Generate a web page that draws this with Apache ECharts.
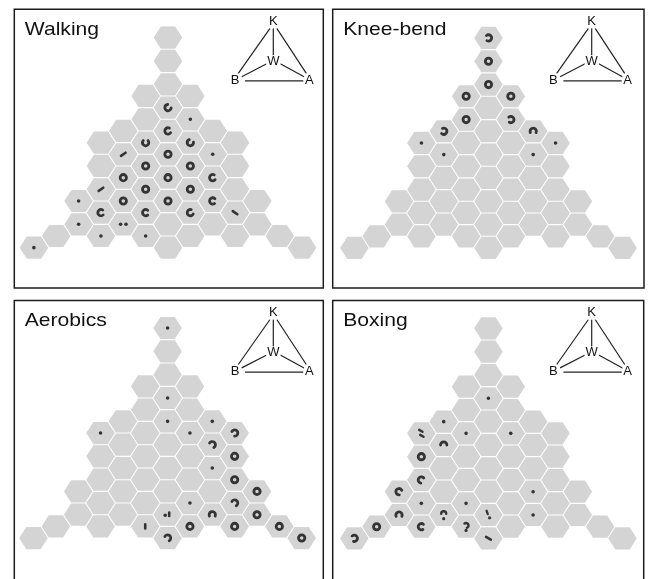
<!DOCTYPE html>
<html>
<head>
<meta charset="utf-8">
<script src="https://cdn.jsdelivr.net/npm/echarts@6/dist/echarts.min.js"></script>
<style>
  html, body { margin: 0; padding: 0; background: #fff; }
  #chart { width: 648px; height: 579px; }
</style>
</head>
<body>
<div id="chart"></div>
<script>
// Hexagonal cells of the simplex grid: for each column 0..12, the half-row indices present.
const hexColumns = [
  [18],
  [17],
  [14, 16],
  [9, 11, 13, 15, 17],
  [8, 10, 12, 14, 16],
  [5, 7, 9, 11, 13, 15, 17],
  [0, 2, 4, 6, 8, 10, 12, 14, 16, 18],
  [5, 7, 9, 11, 13, 15, 17],
  [8, 10, 12, 14, 16],
  [9, 11, 13, 15, 17],
  [14, 16],
  [17],
  [18]
];

const panelTitles = ['Walking', 'Knee-bend', 'Aerobics', 'Boxing'];
const vertexLabels = ['K', 'W', 'B', 'A'];

// Glyphs per cell: [column, halfRow, kind, gapAngleDeg, gapSpanDeg]
const walkingMarks = [
  [6, 6, 'arc', -45, 100],
  [7, 7, 'dot'],
  [6, 8, 'arc', -15, 100],
  [5, 9, 'arc', -90, 100],
  [7, 9, 'arc', -60, 100],
  [4, 10, 'dash', -35],
  [6, 10, 'ring'],
  [8, 10, 'dot'],
  [5, 11, 'ring'],
  [7, 11, 'ring'],
  [4, 12, 'ring'],
  [6, 12, 'ring'],
  [8, 12, 'arc', -10, 100],
  [3, 13, 'dash', -35],
  [5, 13, 'ring'],
  [7, 13, 'ring'],
  [2, 14, 'dot'],
  [4, 14, 'ring'],
  [6, 14, 'ring'],
  [8, 14, 'arc', 5, 100],
  [3, 15, 'arc', -5, 100],
  [5, 15, 'arc', 0, 100],
  [7, 15, 'arc', -25, 100],
  [9, 15, 'dash', 35],
  [2, 16, 'dot'],
  [4, 16, 'pair'],
  [3, 17, 'dot'],
  [5, 17, 'dot'],
  [0, 18, 'dot']
];

const kneeBendMarks = [
  [6, 0, 'arc', 175, 110],
  [6, 2, 'ring'],
  [6, 4, 'ring'],
  [5, 5, 'ring'],
  [7, 5, 'ring'],
  [5, 7, 'ring'],
  [7, 7, 'arc', 175, 110],
  [4, 8, 'arc', 190, 110],
  [8, 8, 'arc', 90, 130],
  [3, 9, 'dot'],
  [9, 9, 'dot'],
  [4, 10, 'dot'],
  [8, 10, 'dot']
];

const aerobicsMarks = [
  [6, 0, 'dot'],
  [6, 6, 'dot'],
  [6, 8, 'dot'],
  [8, 8, 'dot'],
  [3, 9, 'dot'],
  [7, 9, 'dot'],
  [9, 9, 'arc', 150, 120],
  [8, 10, 'arc', 135, 150],
  [9, 11, 'ring'],
  [8, 12, 'dot'],
  [9, 13, 'ring'],
  [10, 14, 'ring'],
  [7, 15, 'dot'],
  [9, 15, 'arc', 135, 150],
  [6, 16, 'dotdash'],
  [8, 16, 'arc', 90, 130],
  [10, 16, 'ring'],
  [5, 17, 'vdash'],
  [7, 17, 'ring'],
  [9, 17, 'ring'],
  [11, 17, 'ring'],
  [6, 18, 'arc', 135, 150],
  [12, 18, 'ring']
];

const boxingMarks = [
  [6, 6, 'dot'],
  [4, 8, 'dot'],
  [3, 9, 'twodash'],
  [5, 9, 'dot'],
  [7, 9, 'dot'],
  [4, 10, 'arc', 90, 180],
  [3, 11, 'ring'],
  [3, 13, 'arc', 30, 140],
  [2, 14, 'arc', 30, 110],
  [8, 14, 'dot'],
  [3, 15, 'dot'],
  [5, 15, 'dot'],
  [2, 16, 'arc', 90, 130],
  [4, 16, 'archdot', 90, 180],
  [6, 16, 'dashdot'],
  [8, 16, 'dot'],
  [1, 17, 'ring'],
  [3, 17, 'arc', 5, 110],
  [5, 17, 'archdot', 150, 160],
  [0, 18, 'arc', 165, 120],
  [6, 18, 'dash', 30]
];

const panelMarks = [walkingMarks, kneeBendMarks, aerobicsMarks, boxingMarks];

// ---- layout ----
const COL_STEP = 22.35;   // px between hex columns
const ROW_STEP = 11.67;   // px per half row
const HEX_W = 28.6;
const HEX_H = 22.2;
const HEX_FILL = '#d4d4d4';
const INK = '#343434';
const FONT = "'Liberation Sans', Arial, sans-serif";

// frame box and grid anchor (x of centre column, y of half-row 0) per panel
const panels = [
  { box: [14.3, 9.3, 309, 278.7], cx: 168.0, ry: 37.6 },
  { box: [332.7, 9.3, 311.3, 278.7], cx: 488.5, ry: 37.9 },
  { box: [14.3, 300.5, 309, 292], cx: 167.6, ry: 328.0 },
  { box: [332.7, 300.5, 311, 292], cx: 488.4, ry: 328.3 }
];

const hexCells = [];
hexColumns.forEach((rows, c) => rows.forEach(r => hexCells.push([c, r])));

const HEX_PATH = 'path://M0 50L25 0L75 0L100 50L75 100L25 100Z';

function dotShape(x, y, rad) {
  return { type: 'circle', shape: { cx: x, cy: y, r: rad || 1.8 }, style: { fill: INK } };
}
function lineShape(x, y, angDeg, len, lw) {
  const a = angDeg * Math.PI / 180, dx = Math.cos(a) * len / 2, dy = Math.sin(a) * len / 2;
  return {
    type: 'line',
    shape: { x1: x - dx, y1: y - dy, x2: x + dx, y2: y + dy },
    style: { stroke: INK, lineWidth: lw || 2.6, lineCap: 'round' }
  };
}
function arcShape(x, y, rad, gapDeg, spanDeg, lw) {
  const g = gapDeg * Math.PI / 180, h = spanDeg * Math.PI / 360;
  return {
    type: 'arc',
    shape: { cx: x, cy: y, r: rad, startAngle: g + h, endAngle: g + 2 * Math.PI - h, clockwise: true },
    style: { fill: null, stroke: INK, lineWidth: lw || 2.8, lineCap: 'round' }
  };
}

function glyph(mark, x, y) {
  const kind = mark[2], ang = mark[3] || 0, span = mark[4] || 110;
  switch (kind) {
    case 'ring':
      return { type: 'circle', shape: { cx: x, cy: y, r: 3.15 }, style: { fill: null, stroke: INK, lineWidth: 2.8 } };
    case 'arc':
      return arcShape(x, y, 3.15, ang, span);
    case 'dot':
      return dotShape(x, y);
    case 'dash':
      return lineShape(x, y, ang, 5.5);
    case 'vdash':
      return lineShape(x, y, 90, 4);
    case 'pair':
      return { type: 'group', children: [dotShape(x - 2.7, y), dotShape(x + 2.7, y)] };
    case 'dotdash':
      return { type: 'group', children: [dotShape(x - 2.4, y + 0.5), lineShape(x + 1.6, y - 0.5, 90, 3.5)] };
    case 'twodash':
      return { type: 'group', children: [lineShape(x - 0.5, y - 2.5, 30, 3.8, 2.4), lineShape(x + 0.5, y + 2.5, 30, 3.8, 2.4)] };
    case 'archdot':
      return { type: 'group', children: [arcShape(x, y - 1.2, 2.5, ang, span, 2.4), dotShape(x, y + 3.7, 1.6)] };
    case 'dashdot':
      return { type: 'group', children: [lineShape(x - 1.2, y - 2.6, 70, 3.5, 2.3), dotShape(x + 1.2, y + 2.8, 1.6)] };
  }
  return null;
}

const grids = [], xAxes = [], yAxes = [], series = [], graphics = [];

panels.forEach((p, i) => {
  grids.push({
    left: p.cx - 6.5 * COL_STEP,
    top: p.ry - ROW_STEP,
    width: 13 * COL_STEP,
    height: 20 * ROW_STEP,
    show: false
  });
  xAxes.push({ gridIndex: i, type: 'value', min: -0.5, max: 12.5, show: false });
  yAxes.push({ gridIndex: i, type: 'value', min: -1, max: 19, inverse: true, show: false });

  series.push({
    type: 'scatter',
    xAxisIndex: i, yAxisIndex: i,
    data: hexCells,
    symbol: HEX_PATH,
    symbolSize: [HEX_W, HEX_H],
    itemStyle: { color: HEX_FILL, opacity: 1 },
    silent: true,
    animation: false,
    z: 1
  });

  const marks = panelMarks[i];
  series.push({
    type: 'custom',
    xAxisIndex: i, yAxisIndex: i,
    data: marks.map(m => [m[0], m[1]]),
    renderItem: (params, api) => {
      const pt = api.coord([api.value(0), api.value(1)]);
      return glyph(marks[params.dataIndex], pt[0], pt[1]);
    },
    silent: true,
    animation: false,
    z: 2
  });

  const [bx, by, bw, bh] = p.box;
  // panel frame
  graphics.push({
    type: 'rect', z: 10,
    shape: { x: bx, y: by, width: bw, height: bh },
    style: { fill: null, stroke: '#1c1c1c', lineWidth: 1.5 }
  });
  // panel title
  graphics.push({
    type: 'text', z: 10,
    x: bx + 10.5, y: by + 20.6,
    scaleX: 1.14,
    style: {
      text: panelTitles[i], fill: '#111', font: '18.5px ' + FONT,
      textAlign: 'left', textVerticalAlign: 'middle'
    }
  });
  // vertex key: K on top, W in the middle, B and A at the base
  const key = [
    [255.7, 19, 224, 64],
    [262.5, 19, 292, 64],
    [259, 19, 259, 47.4],
    [252.4, 54.5, 227.4, 67.4],
    [266, 54.5, 290.7, 68],
    [230.7, 71.6, 289, 71.6]
  ];
  key.forEach(s => graphics.push({
    type: 'line', z: 10,
    shape: { x1: bx + s[0], y1: by + s[1], x2: bx + s[2], y2: by + s[3] },
    style: { stroke: '#222', lineWidth: 1.2 }
  }));
  const keyPos = [[259, 12.4], [259, 52.4], [220.7, 71], [295, 71.4]];
  vertexLabels.forEach((t, k) => graphics.push({
    type: 'text', z: 11,
    x: bx + keyPos[k][0], y: by + keyPos[k][1],
    style: {
      text: t, fill: '#111', font: '13px ' + FONT,
      textAlign: 'center', textVerticalAlign: 'middle',
      backgroundColor: '#fff', padding: [0, 1]
    }
  }));
});

const chart = echarts.init(document.getElementById('chart'), null, { renderer: 'canvas' });
chart.setOption({
  animation: false,
  backgroundColor: '#fff',
  grid: grids,
  xAxis: xAxes,
  yAxis: yAxes,
  series: series,
  graphic: { elements: graphics }
});
</script>
</body>
</html>
